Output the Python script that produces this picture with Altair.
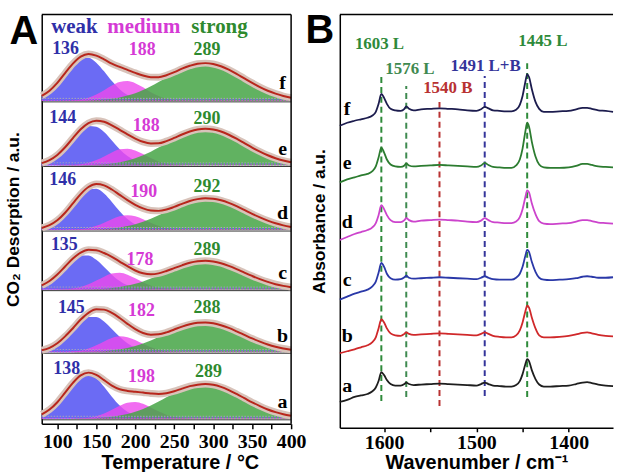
import altair as alt
import pandas as pd

# ---------------- Panel A: CO2-TPD deconvolution ----------------
T = [80, 90, 100, 110, 120, 130, 140, 150, 160, 170, 180, 190, 200, 210, 220, 230, 240,
     250, 260, 270, 280, 290, 300, 310, 320, 330, 340, 350, 360, 370, 380, 390, 400]

WEAK_F = [5.1, 10.3, 18.1, 27.7, 36.9, 42.9, 43.5, 38.5, 29.7, 19.9, 11.7, 5.9, 2.6, 1.0, 0.4, 0, 0,
          0, 0, 0, 0, 0, 0, 0, 0, 0, 0, 0, 0, 0, 0, 0, 0]
MED_F = [0, 0, 0, 0.2, 0.5, 1.4, 3.2, 6.3, 10.7, 15.4, 19.0, 19.9, 17.8, 13.6, 8.8, 4.9, 2.3,
         0.9, 0.3, 0, 0, 0, 0, 0, 0, 0, 0, 0, 0, 0, 0, 0, 0]
STR_F = [0, 0, 0, 0.1, 0.1, 0.2, 0.5, 0.8, 1.4, 2.2, 3.5, 5.4, 7.8, 10.9, 14.7, 18.9, 23.5,
         28.0, 32.1, 35.3, 37.4, 38.0, 37.1, 34.8, 31.4, 27.2, 22.6, 18.1, 13.9, 10.2, 7.3, 4.9, 3.2]

WEAK_E = [2.4, 5.4, 10.6, 18.1, 27.0, 35.0, 39.6, 39.0, 33.6, 25.2, 16.4, 9.4, 4.7, 2.0, 0.8, 0.2, 0,
          0, 0, 0, 0, 0, 0, 0, 0, 0, 0, 0, 0, 0, 0, 0, 0]
MED_E = [0, 0, 0, 0.1, 0.4, 1.2, 2.7, 5.4, 9.1, 13.1, 16.2, 16.9, 15.1, 11.5, 7.5, 4.1, 2.0,
         0.8, 0.3, 0, 0, 0, 0, 0, 0, 0, 0, 0, 0, 0, 0, 0, 0]
STR_E = [0, 0, 0, 0.1, 0.1, 0.2, 0.4, 0.7, 1.3, 2.1, 3.3, 5.0, 7.3, 10.3, 13.9, 18.0, 22.5,
         26.9, 30.9, 34.2, 36.3, 37.0, 36.3, 34.2, 30.9, 26.9, 22.5, 18.0, 13.9, 10.3, 7.3, 5.0, 3.3]

WEAK_D = [2.1, 4.9, 9.8, 17.3, 26.4, 35.2, 41.0, 41.5, 36.7, 28.3, 19.0, 11.1, 5.7, 2.5, 1.0, 0.3, 0,
          0, 0, 0, 0, 0, 0, 0, 0, 0, 0, 0, 0, 0, 0, 0, 0]
MED_D = [0, 0, 0, 0.1, 0.3, 0.8, 2.0, 4.2, 7.3, 10.9, 13.8, 15.0, 13.8, 10.9, 7.3, 4.2, 2.0,
         0.8, 0.3, 0.1, 0, 0, 0, 0, 0, 0, 0, 0, 0, 0, 0, 0, 0]
STR_D = [0, 0, 0, 0, 0.1, 0.2, 0.3, 0.6, 1.0, 1.6, 2.6, 4.0, 5.9, 8.4, 11.4, 14.8, 18.6,
         22.5, 26.1, 29.1, 31.1, 32.0, 31.6, 30.0, 27.4, 24.0, 20.2, 16.3, 12.7, 9.5, 6.8, 4.7, 3.1]

WEAK_C = [4.4, 8.7, 15.1, 22.8, 30.0, 34.4, 34.4, 30.0, 22.8, 15.1, 8.7, 4.4, 1.9, 0.7, 0.2, 0, 0,
          0, 0, 0, 0, 0, 0, 0, 0, 0, 0, 0, 0, 0, 0, 0, 0]
MED_C = [0, 0, 0.1, 0.4, 1.2, 2.7, 5.4, 9.1, 13.1, 16.2, 16.9, 15.1, 11.5, 7.5, 4.1, 2.0, 0.8,
         0.3, 0, 0, 0, 0, 0, 0, 0, 0, 0, 0, 0, 0, 0, 0, 0]
STR_C = [0, 0, 0, 0.1, 0.1, 0.2, 0.3, 0.6, 1.0, 1.7, 2.7, 4.1, 5.9, 8.3, 11.2, 14.4, 18.0,
         21.4, 24.5, 27.0, 28.5, 29.0, 28.3, 26.6, 23.9, 20.7, 17.2, 13.8, 10.6, 7.8, 5.5, 3.8, 2.5]

WEAK_B = [2.0, 4.5, 9.0, 15.6, 23.4, 30.9, 35.4, 35.4, 30.9, 23.4, 15.6, 9.0, 4.5, 2.0, 0.8, 0.3, 0,
          0, 0, 0, 0, 0, 0, 0, 0, 0, 0, 0, 0, 0, 0, 0, 0]
MED_B = [0, 0, 0.1, 0.3, 0.7, 1.8, 3.9, 7.1, 10.9, 14.3, 16.0, 15.2, 12.4, 8.5, 5.0, 2.5, 1.1,
         0.4, 0.1, 0, 0, 0, 0, 0, 0, 0, 0, 0, 0, 0, 0, 0, 0]
STR_B = [0, 0, 0, 0.1, 0.1, 0.2, 0.4, 0.7, 1.1, 1.9, 2.9, 4.4, 6.4, 8.9, 11.9, 15.3, 18.9,
         22.5, 25.7, 28.1, 29.6, 30.0, 29.2, 27.2, 24.5, 21.1, 17.5, 13.9, 10.7, 7.8, 5.5, 3.8, 2.4]

WEAK_A = [4.5, 9.3, 16.7, 26.3, 36.0, 43.1, 44.9, 40.8, 32.3, 22.3, 13.4, 7.0, 3.2, 1.3, 0.5, 0.1, 0,
          0, 0, 0, 0, 0, 0, 0, 0, 0, 0, 0, 0, 0, 0, 0, 0]
MED_A = [0, 0, 0, 0, 0.1, 0.4, 1.2, 2.7, 5.4, 9.1, 13.1, 16.2, 16.9, 15.1, 11.5, 7.5, 4.1,
         2.0, 0.8, 0.3, 0, 0, 0, 0, 0, 0, 0, 0, 0, 0, 0, 0, 0]
STR_A = [0, 0, 0, 0.1, 0.1, 0.2, 0.4, 0.7, 1.3, 2.1, 3.3, 4.9, 7.2, 10.0, 13.5, 17.4, 21.7,
         25.8, 29.6, 32.6, 34.4, 35.0, 34.2, 32.1, 28.9, 25.0, 20.8, 16.6, 12.8, 9.4, 6.7, 4.6, 3.0]

SAMPLES = ["a", "b", "c", "d", "e", "f"]
WEAK_PEAK = [138, 145, 135, 146, 144, 136]
MED_PEAK = [198, 182, 178, 190, 188, 188]
STR_PEAK = [289, 288, 289, 292, 290, 289]

# layout (not data): vertical offset of each stacked profile
BASE_A = {"a": 5, "b": 72, "c": 135, "d": 195, "e": 260, "f": 325}
COMPS = {"a": (WEAK_A, MED_A, STR_A), "b": (WEAK_B, MED_B, STR_B), "c": (WEAK_C, MED_C, STR_C),
         "d": (WEAK_D, MED_D, STR_D), "e": (WEAK_E, MED_E, STR_E), "f": (WEAK_F, MED_F, STR_F)}
# label anchors (temperature, height) for the three peak numbers of each profile
LBL_POS = {"a": [(112, 55), (208, 47), (294, 52)], "b": [(118, 117), (208, 113), (292, 117)],
           "c": [(109, 180), (206, 165), (292, 175)], "d": [(107, 245), (211, 233), (292, 238)],
           "e": [(107, 308), (214, 300), (292, 307)], "f": [(110.6, 377), (209, 376), (292, 376)]}
LETTER_Y_A = {"a": 22, "b": 88, "c": 152, "d": 212, "e": 277, "f": 343}

BLUE_TXT = "#2f2fa8"
MAG_TXT = "#d53ad5"
GRN_TXT = "#2e8a2e"

rows = []
for p in SAMPLES:
    w, m, s = COMPS[p]
    b = BASE_A[p]
    for i, t in enumerate(T):
        rows.append(dict(T=t, panel=p, base=b, weak=b + w[i], medium=b + m[i],
                         strong=b + s[i], total=b + w[i] + m[i] + s[i]))
dfA = pd.DataFrame(rows)

txtA = []
for i, p in enumerate(SAMPLES):
    pos = LBL_POS[p]
    txtA.append(dict(T=pos[0][0], y=pos[0][1], text=str(WEAK_PEAK[i]), col=BLUE_TXT))
    txtA.append(dict(T=pos[1][0], y=pos[1][1], text=str(MED_PEAK[i]), col=MAG_TXT))
    txtA.append(dict(T=pos[2][0], y=pos[2][1], text=str(STR_PEAK[i]), col=GRN_TXT))
dfTxtA = pd.DataFrame(txtA)
dfHeadA = pd.DataFrame([dict(T=122, y=399.5, text="weak", col=BLUE_TXT),
                        dict(T=211, y=399.5, text="medium", col=MAG_TXT),
                        dict(T=308, y=399.5, text="strong", col=GRN_TXT)])
dfLetA = pd.DataFrame([dict(T=389, y=LETTER_Y_A[p], text=p) for p in SAMPLES])

bl = []
for p in SAMPLES:
    b = BASE_A[p]
    bl.append(dict(y=b + 2.5, col="#b0b0b0", kind="dot"))
    bl.append(dict(y=b + 1.5, col="#6060f0", kind="dot"))
    bl.append(dict(y=b + 0.5, col="#e040e0", kind="dot"))
    bl.append(dict(y=b - 1.0, col="#333333", kind="solid"))
dfBL = pd.DataFrame(bl)

WA, HA = 251, 412
SERIF = "Liberation Serif, Times New Roman, serif"
SANS = "Liberation Sans, Arial, sans-serif"

axXA = alt.Axis(values=list(range(100, 401, 25)),
                labelExpr="datum.value % 50 === 0 ? datum.label : ''",
                labelOverlap=False, labelFlush=False, tickSize=5, tickWidth=1.5, tickColor="black",
                labelFont=SERIF, labelFontWeight="bold", labelFontSize=20, labelColor="black",
                labelPadding=3, domainColor="black", domainWidth=1.5, grid=False,
                title="Temperature / °C", titleFont=SANS, titleFontSize=20, titleFontWeight="bold",
                titleColor="black", titlePadding=1, titleX=139)
axYA = alt.Axis(labels=False, ticks=False, grid=False, domainColor="black", domainWidth=1.5,
                title="CO₂ Desorption / a.u.", titleFont=SANS, titleFontSize=17.5,
                titleFontWeight="bold", titleColor="black", titlePadding=19)
xA = alt.X("T:Q", scale=alt.Scale(domain=[80, 400], nice=False, zero=False), axis=axXA)
ysA = alt.Scale(domain=[0, HA], nice=False, zero=False)


def YA(f):
    return alt.Y(f, scale=ysA, axis=axYA)


baseA = alt.Chart(dfA)
areaW = baseA.mark_area(color="#5353f2", opacity=0.86, interpolate="monotone").encode(
    x=xA, y=YA("weak:Q"), y2="base:Q", detail="panel:N")
areaM = baseA.mark_area(color="#ee48ee", opacity=0.8, interpolate="monotone").encode(
    x=xA, y=YA("medium:Q"), y2="base:Q", detail="panel:N")
areaS = baseA.mark_area(color="#45a545", opacity=0.85, interpolate="monotone").encode(
    x=xA, y=YA("strong:Q"), y2="base:Q", detail="panel:N")
halo = baseA.mark_line(color="#d8c3ba", strokeWidth=7, interpolate="monotone").encode(
    x=xA, y=YA("total:Q"), detail="panel:N")
redl = baseA.mark_line(color="#b8261c", strokeWidth=2, interpolate="monotone").encode(
    x=xA, y=YA("total:Q"), detail="panel:N")
blDot = alt.Chart(dfBL).transform_filter("datum.kind == 'dot'").mark_rule(
    strokeWidth=1, strokeDash=[1.5, 1.5]).encode(
    y=YA("y:Q"), x=alt.value(0), x2=alt.value(WA), color=alt.Color("col:N", scale=None))
blSol = alt.Chart(dfBL).transform_filter("datum.kind == 'solid'").mark_rule(
    strokeWidth=1).encode(
    y=YA("y:Q"), x=alt.value(0), x2=alt.value(WA), color=alt.Color("col:N", scale=None))
txtNum = alt.Chart(dfTxtA).mark_text(font=SERIF, fontWeight="bold", fontSize=18,
                                     baseline="middle").encode(
    x=xA, y=YA("y:Q"), text="text:N", color=alt.Color("col:N", scale=None))
txtHead = alt.Chart(dfHeadA).mark_text(font=SERIF, fontWeight="bold", fontSize=21,
                                       baseline="middle").encode(
    x=xA, y=YA("y:Q"), text="text:N", color=alt.Color("col:N", scale=None))
txtLet = alt.Chart(dfLetA).mark_text(font=SERIF, fontWeight="bold", fontSize=20,
                                     baseline="middle", color="black").encode(
    x=xA, y=YA("y:Q"), text="text:N")
one = pd.DataFrame({"k": [0]})
frameTopA = alt.Chart(one).mark_rule(color="black", strokeWidth=1.5).encode(
    x=alt.value(0), x2=alt.value(WA), y=alt.value(0))
frameRightA = alt.Chart(one).mark_rule(color="black", strokeWidth=1.5).encode(
    x=alt.value(WA), y=alt.value(0), y2=alt.value(HA))
anchor = alt.Chart(one).mark_rule(color="white", opacity=0, strokeWidth=0.1).encode(
    x=alt.value(-42), x2=alt.value(-41), y=alt.value(-13))
letterA = alt.Chart(one).mark_text(text="A", font=SANS, fontWeight="bold", fontSize=40,
                                   baseline="alphabetic", align="center", color="black").encode(
    x=alt.value(-18), y=alt.value(30))

chartA = alt.layer(anchor, areaW, areaM, areaS, blDot, blSol, halo, redl, txtNum, txtHead,
                   txtLet, frameTopA, frameRightA, letterA).properties(width=WA, height=HA)

# ---------------- Panel B: Py-IR spectra ----------------
WN = [1648, 1640, 1632, 1625, 1618, 1613, 1609, 1606, 1603, 1600,
      1597, 1593, 1588, 1582, 1578, 1576, 1573, 1568, 1560, 1550,
      1540, 1530, 1520, 1510, 1500, 1495, 1491, 1487, 1482, 1475,
      1468, 1462, 1457, 1453, 1450, 1447, 1445, 1443, 1440, 1436,
      1432, 1427, 1420, 1410, 1400, 1392, 1385, 1380, 1375, 1368,
      1360, 1352]

SPEC_F = [-17, -14, -12, -10.5, -9, -7, -3, 5, 15, 11,
          5, 0, -1.5, -2, 0, 2.5, 0, -1.5, -0.5, 0,
          0.5, 0, -0.5, -1.5, -2, -0.5, 2, 0.5, -1.5, -2,
          -2.5, -2.5, -1, 4, 13, 27, 35, 32, 20, 7,
          0, -3, -3, -2.5, -2, -0.5, 1, 1, 0, -1.5,
          -2, -3]
SPEC_E = [-17, -14, -12, -10, -8.5, -6, -1, 8, 18, 13,
          6, 1, -1, -1.5, 0, 2, 0, -1, -0.5, 0,
          0.5, 0, -0.5, -1, -1.5, 0, 2.5, 0.5, -1.5, -2,
          -2.5, -2.5, 0, 6, 17, 34, 43, 39, 24, 9,
          1, -2, -2.5, -2.5, -2, -0.5, 1.5, 1.5, 0.5, -1,
          -1.5, -2]
SPEC_D = [-20, -17, -14, -12, -10, -7.5, -3, 5, 15, 11,
          5, 0, -2, -2, 0, 2, 0, -1.5, -0.5, 0,
          0.5, 0, -0.5, -1.5, -2, -0.5, 2, 0, -2, -2.5,
          -3, -3, -1.5, 3, 11, 23, 30, 28, 17, 6,
          -1, -3.5, -4, -3.5, -3, -1.5, 0, 0, -1, -2.5,
          -3, -3.5]
SPEC_C = [-22, -19, -16, -14, -12, -9, -4, 5, 15, 11,
          4, -0.5, -2, -1.5, 0.5, 2, 0, -1, -0.5, 0,
          0.5, 0, -0.5, -1, -1.5, 0, 1.5, 0, -1.5, -2,
          -2, -2, 0, 4, 11, 22, 28, 26, 16, 6,
          0, -2, -2.5, -2, -1.5, -0.5, 1, 1.5, 1, 0,
          0, 0.5]
SPEC_B = [-19, -17, -15, -13, -11, -8, -3, 6, 15, 12,
          6, 1, -1, -1.5, 0.5, 2, 0.5, -0.5, 0, 0.5,
          1, 0.5, 0, -0.5, -1, 0.5, 2, 0.5, -1.5, -2.5,
          -3, -3, -1, 4, 12, 23, 29, 27, 17, 6,
          -1, -3, -3, -2.5, -1.5, 0, 1.5, 2, 1, -0.5,
          -1.5, -2]
SPEC_A = [-18, -16, -13, -11.5, -10, -7.5, -3.5, 3, 12, 9,
          4, 0, -1.5, -1.5, 0, 1.5, 0, -1, -0.5, 0,
          0.5, 0, -0.5, -1, -1.5, 0, 1.5, 0, -1.5, -2,
          -2.5, -2.5, -1, 3, 10, 20, 25, 23, 14, 5,
          -0.5, -2.5, -2.5, -2, -1.5, 0, 1.5, 2, 1, -0.5,
          -1.5, -2]

SPECS = {"a": SPEC_A, "b": SPEC_B, "c": SPEC_C, "d": SPEC_D, "e": SPEC_E, "f": SPEC_F}
OFFSET_B = {"a": 44, "b": 94, "c": 151, "d": 209, "e": 264, "f": 321}
TRACE_COL = {"a": "#1e1e1e", "b": "#d0282a", "c": "#2a38a8", "d": "#cc44cc", "e": "#2c7c30",
             "f": "#1c1c4e"}
LETTER_Y_B = {"a": 42, "b": 92, "c": 149, "d": 207, "e": 266, "f": 321}

BANDS = [1603, 1576, 1540, 1491, 1445]
BAND_TXT = ["1603 L", "1576 L", "1540 B", "1491 L+B", "1445 L"]
BAND_COL = ["#2e8a3a", "#3f8a50", "#b83232", "#34349a", "#2e8a3a"]
BAND_Y = [(27, 354), (31, 344), (22, 332), (32, 354), (31, 369)]
BAND_LBL = [(1605, 386), (1572, 361), (1531, 342), (1490, 364), (1428, 389)]

rowsB = []
for p in SAMPLES:
    for w, v in zip(WN, SPECS[p]):
        rowsB.append(dict(wn=w, trace=p, y=OFFSET_B[p] + v))
dfB = pd.DataFrame(rowsB)
dfBand = pd.DataFrame([dict(wn=BANDS[i], y1=BAND_Y[i][0], y2=BAND_Y[i][1], col=BAND_COL[i])
                       for i in range(len(BANDS))])
dfBandT = pd.DataFrame([dict(wn=BAND_LBL[i][0], y=BAND_LBL[i][1], text=BAND_TXT[i],
                             col=BAND_COL[i]) for i in range(len(BANDS))])
dfLetB = pd.DataFrame([dict(wn=1640, y=LETTER_Y_B[p], text=p) for p in SAMPLES])

WB, HB = 275, 416
axXB = alt.Axis(values=[1600, 1550, 1500, 1450, 1400], format="d",
                labelExpr="datum.value % 100 === 0 ? datum.label : ''",
                labelOverlap=False, labelFlush=False, tickSize=4, tickWidth=1.5, tickColor="black",
                labelFont=SERIF, labelFontWeight="bold", labelFontSize=20, labelColor="black",
                labelPadding=1, domainColor="black", domainWidth=1.5, grid=False,
                title="Wavenumber / cm⁻¹", titleFont=SANS, titleFontSize=20,
                titleFontWeight="bold", titleColor="black", titlePadding=0)
axYB = alt.Axis(labels=False, ticks=False, grid=False, domainColor="black", domainWidth=1.5,
                title="Absorbance / a.u.", titleFont=SANS, titleFontSize=17.5,
                titleFontWeight="bold", titleColor="black", titlePadding=11)
xB = alt.X("wn:Q", scale=alt.Scale(domain=[1352, 1648], reverse=True, nice=False, zero=False),
           axis=axXB)
ysB = alt.Scale(domain=[0, HB], nice=False, zero=False)


def YB(f):
    return alt.Y(f, scale=ysB, axis=axYB)


bandLines = alt.Chart(dfBand).mark_rule(strokeWidth=2, strokeDash=[6, 4]).encode(
    x=xB, y=YB("y1:Q"), y2="y2:Q", color=alt.Color("col:N", scale=None))
spectra = alt.Chart(dfB).mark_line(strokeWidth=1.8, interpolate="monotone").encode(
    x=xB, y=YB("y:Q"),
    color=alt.Color("trace:N", scale=alt.Scale(domain=SAMPLES,
                                               range=[TRACE_COL[p] for p in SAMPLES]),
                    legend=None))
bandText = alt.Chart(dfBandT).mark_text(font=SERIF, fontWeight="bold", fontSize=17,
                                        baseline="middle").encode(
    x=xB, y=YB("y:Q"), text="text:N", color=alt.Color("col:N", scale=None))
letB = alt.Chart(dfLetB).mark_text(font=SERIF, fontWeight="bold", fontSize=20,
                                   baseline="middle", color="black").encode(
    x=xB, y=YB("y:Q"), text="text:N")
frameTopB = alt.Chart(one).mark_rule(color="black", strokeWidth=1.5).encode(
    x=alt.value(0), x2=alt.value(WB), y=alt.value(0))
letterB = alt.Chart(one).mark_text(text="B", font=SANS, fontWeight="bold", fontSize=40,
                                   baseline="alphabetic", align="center", color="black").encode(
    x=alt.value(-20), y=alt.value(29))

chartB = alt.layer(bandLines, spectra, bandText, letB, frameTopB, letterB).properties(
    width=WB, height=HB)

chart = alt.hconcat(chartA, chartB, spacing=49, bounds="flush").properties(
    padding=0, background="white").configure_view(stroke=None)

chart.save("out.html", embed_options={"renderer": "svg", "actions": False})
